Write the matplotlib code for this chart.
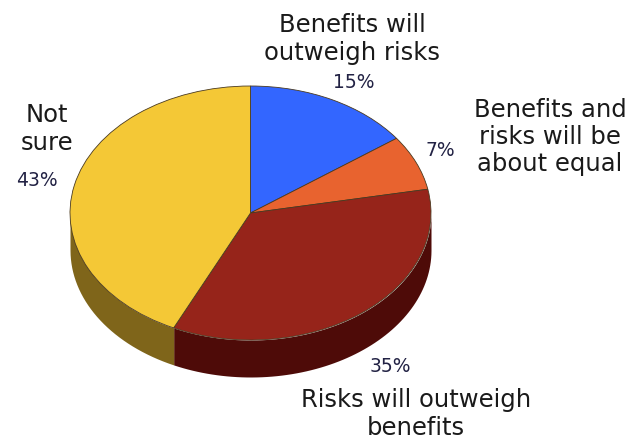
import numpy as np
import matplotlib
matplotlib.use('Agg')
import matplotlib.pyplot as plt

labels = ['Benefits will\noutweigh risks', 'Benefits and\nrisks will be\nabout equal',
          'Risks will outweigh\nbenefits', 'Not\nsure']
values = [15, 7, 35, 43]
pct_labels = ['15%', '7%', '35%', '43%']
top_colors = ['#3366ff', '#e8632f', '#96241a', '#f4c836']
side_colors = ['#1f3d99', '#8c3d22', '#4e0b08', '#7f651a']

W, H = 629, 439
cx, cy, rx, ry = 250.5, 214, 180.5, 127
depth = 37 / ry

fig = plt.figure(figsize=(W / 100, H / 100), dpi=100)
ax = fig.add_axes([0, 0, 1, 1])

wedges, _ = ax.pie(values, colors=top_colors, startangle=90, counterclock=False,
                   wedgeprops={'edgecolor': '#4a3a20', 'linewidth': 0.6})
for w in wedges:
    w.set_zorder(3)

# pie forces equal aspect, stretch it back into the tilted ellipse
ax.set_aspect('auto')
ax.set_xlim(-cx / rx, (W - cx) / rx)
ax.set_ylim((cy - H) / ry, cy / ry)
ax.axis('off')

# side wall, only the front half of the rim shows
a = 90.0
for v, c in zip(values, side_colors):
    a2 = a - v / sum(values) * 360
    t = np.radians(np.linspace(a, a2, 80))
    t = t[np.sin(t) <= 0]
    if len(t) > 1:
        ax.fill_between(np.cos(t), np.sin(t), np.sin(t) - depth, color=c, lw=0, zorder=1)
    a = a2


def px(x, y):
    return (x - cx) / rx, (cy - y) / ry


label_pos = [(352, 39), (550, 137), (416, 414), (47, 129)]
pct_pos = [(354, 82), (440, 150), (390, 366), (37, 180)]

for s, (x, y) in zip(labels, label_pos):
    ax.text(*px(x, y), s, ha='center', va='center', fontsize=17.5, color='#1a1a1a',
            linespacing=1.16, family='DejaVu Sans')
for s, (x, y) in zip(pct_labels, pct_pos):
    ax.text(*px(x, y), s, ha='center', va='center', fontsize=13.5, color='#222244',
            family='DejaVu Sans')

fig.savefig('out.png', dpi=100)
